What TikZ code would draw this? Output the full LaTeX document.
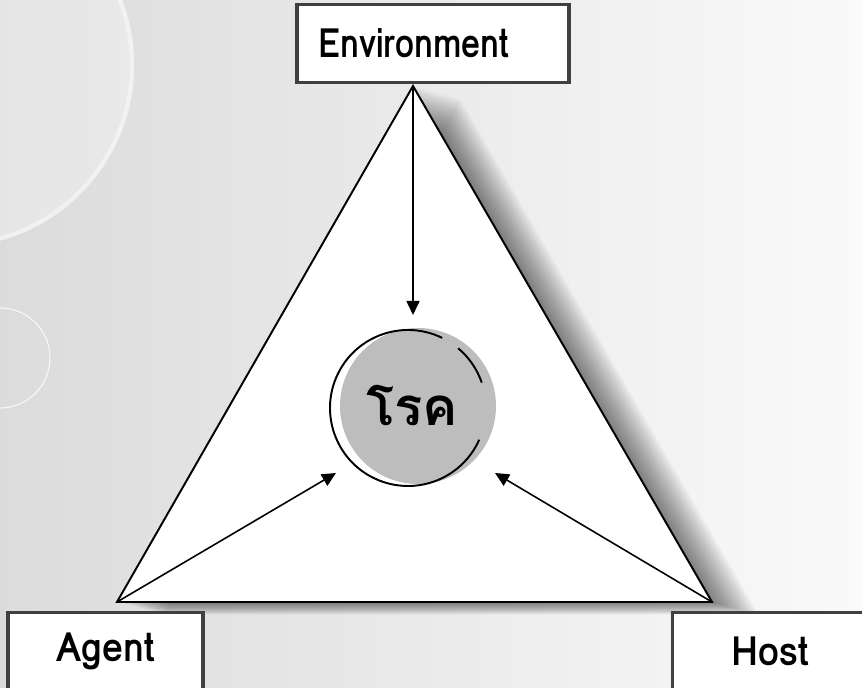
\documentclass[tikz,border=0pt]{standalone}
\usepackage{fontspec}
\newfontfamily\thaifont[Script=Thai]{Loma}
\usetikzlibrary{arrows.meta,calc}

\newcommand{\narrowlbl}[2][0.93]{\scalebox{#1}[1]{#2}}
\definecolor{discgray}{gray}{0.74}
\definecolor{boxedge}{gray}{0.25}

\tikzset{
    labelbox/.style={draw=boxedge, fill=white, line width=1.8pt, rectangle,
        minimum height=1.55cm, font=\thaifont\bfseries\fontsize{23}{26}\selectfont},
    pointer/.style={line width=0.9pt, -{Triangle[length=0.28cm,width=0.26cm]}},
}

\begin{document}
\begin{tikzpicture}[x=0.02cm,y=-0.02cm]
    % page and background
    \useasboundingbox (0,0) rectangle (862,688);
    \shade[left color=black!14, right color=black!2] (0,0) rectangle (862,688);
    \begin{scope}
        \clip (0,0) rectangle (862,688);
        \fill[white, opacity=0.3] (-48,65) circle [radius=182];
        \draw[white, opacity=0.45, line width=2.5pt] (-48,65) circle [radius=180];
        \draw[white, opacity=0.8, line width=0.6pt] (0,358) circle [radius=50];
    \end{scope}

    % corners of the triangle
    \coordinate (apexE) at (413,86);
    \coordinate (cornerA) at (117,602);
    \coordinate (cornerH) at (712,602);

    % soft shadow on the right side
    \foreach \s in {1,...,18}
        \fill[black, opacity=0.032] ($(apexE)+(2.6*\s,0.7*\s)$) -- ($(cornerA)+(2.6*\s,0.7*\s)$) -- ($(cornerH)+(2.6*\s,0.7*\s)$) -- cycle;
    \draw[fill=white, line width=1.1pt, line join=miter] (apexE) -- (cornerA) -- (cornerH) -- cycle;

    % disease in the middle
    \fill[discgray] (418,406) circle [radius=78];
    \draw[line width=1.1pt] (408,408) ++(-64:78) arc[start angle=-64, end angle=-336, radius=78];
    \draw[line width=1.1pt] (408,408) ++(-50:78) arc[start angle=-50, end angle=-19, radius=78];
    \node[circle, minimum size=3.2cm, inner sep=0pt, font=\thaifont\bfseries\fontsize{30}{34}\selectfont] (disease) at (412,406) {โรค};

    % labels
    \node[labelbox, minimum width=5.44cm, text width=4.6cm, inner xsep=0.42cm, align=left] (env) at (433,43.5) {\narrowlbl[0.845]{Environment}};
    \node[labelbox, minimum width=3.9cm] (agent) at (105.5,651) {\narrowlbl{Agent}};
    \node[labelbox, minimum width=3.9cm] (host) at (770,651) {\narrowlbl{Host}};

    % arrows into the disease
    \coordinate (envtip) at (413,315);
    \coordinate (agtip) at (336,473);
    \coordinate (hosttip) at (495,473);
    \draw[pointer] (apexE) -- (envtip);
    \draw[pointer] (cornerA) -- (agtip);
    \draw[pointer] (cornerH) -- (hosttip);
\end{tikzpicture}
\end{document}
